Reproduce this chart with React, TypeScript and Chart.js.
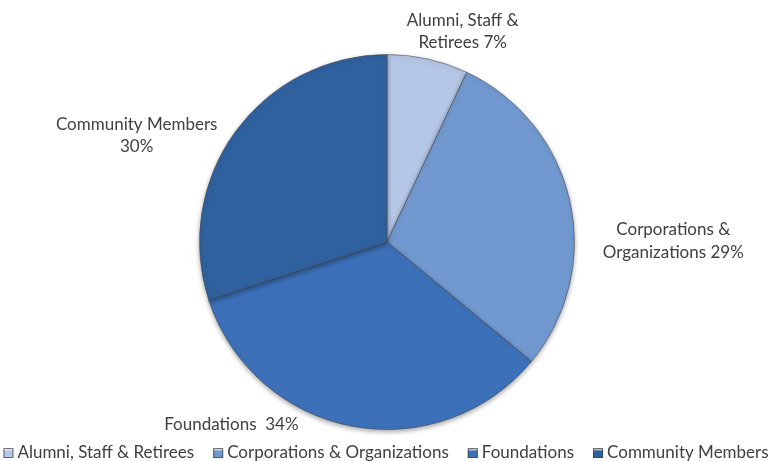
import React, { useEffect, useRef } from "react";
import { Chart, registerables } from "chart.js";

Chart.register(...registerables);

const categories = [
  "Alumni, Staff & Retirees",
  "Corporations & Organizations",
  "Foundations",
  "Community Members",
];
const values = [7, 29, 34, 30];
const labelLines = [
  ["Alumni, Staff &", "Retirees 7%"],
  ["Corporations &", "Organizations 29%"],
  ["Foundations  34%"],
  ["Community Members", "30%"],
];
const colors = ["#b5c7e6", "#7199d0", "#3c71ba", "#30619f"];
// label anchor offsets relative to pie centre, in units of radius
const labelOffsets = [
  [0.404, -1.122],
  [1.527, -0.005],
  [-0.83, 0.973],
  [-1.335, -0.569],
];

const FONT = "Lato, 'Open Sans', sans-serif";
const FONT_SIZE = 17;
const TEXT_COLOR = "#404040";

const labelPlugin = {
  id: "outerLabels",
  afterDatasetsDraw(chart: any) {
    const meta = chart.getDatasetMeta(0);
    const ctx = chart.ctx;
    ctx.save();
    ctx.font = `${FONT_SIZE}px ${FONT}`;
    ctx.fillStyle = TEXT_COLOR;
    ctx.textAlign = "center";
    ctx.textBaseline = "middle";
    const lh = 22.5;
    meta.data.forEach((arc: any, i: number) => {
      const r = arc.outerRadius;
      const cx = arc.x + labelOffsets[i][0] * r;
      const cy = arc.y + labelOffsets[i][1] * r;
      const lines = labelLines[i];
      const y0 = cy - ((lines.length - 1) * lh) / 2;
      lines.forEach((t, j) => ctx.fillText(t, cx, y0 + j * lh));
    });
    ctx.restore();
  },
};

const legendPlugin = {
  id: "customLegend",
  afterDraw(chart: any) {
    const ctx = chart.ctx;
    const labels: string[] = chart.data.labels;
    const bg: string[] = chart.data.datasets[0].backgroundColor;
    ctx.save();
    ctx.font = `${FONT_SIZE}px ${FONT}`;
    const box = 10;
    const gapBox = 4;
    const gapItem = 19;
    const widths = labels.map((l) => ctx.measureText(l).width);
    const total =
      widths.reduce((a, b) => a + b, 0) +
      labels.length * (box + gapBox) +
      (labels.length - 1) * gapItem;
    let x = (chart.width - total) / 2;
    const y = chart.height - 8;
    ctx.textBaseline = "middle";
    ctx.textAlign = "left";
    labels.forEach((l, i) => {
      const g = ctx.createLinearGradient(x, y - box / 2, x, y + box / 2);
      g.addColorStop(0, "#ffffff");
      g.addColorStop(0.35, bg[i]);
      g.addColorStop(1, bg[i]);
      ctx.fillStyle = g;
      ctx.fillRect(x, y - box / 2, box, box);
      ctx.strokeStyle = "rgba(60,60,60,0.7)";
      ctx.lineWidth = 1;
      ctx.strokeRect(x + 0.5, y - box / 2 + 0.5, box - 1, box - 1);
      x += box + gapBox;
      ctx.fillStyle = TEXT_COLOR;
      ctx.fillText(l, x, y);
      x += widths[i] + gapItem;
    });
    ctx.restore();
  },
};

const shadowPlugin = {
  id: "pieShadow",
  beforeDatasetsDraw(chart: any) {
    const ctx = chart.ctx;
    ctx.save();
    ctx.shadowColor = "rgba(0,0,0,0.35)";
    ctx.shadowBlur = 5;
    ctx.shadowOffsetY = 2;
  },
  afterDatasetsDraw(chart: any) {
    chart.ctx.restore();
  },
};

export default function App() {
  const ref = useRef<HTMLCanvasElement>(null);
  useEffect(() => {
    document.body.style.margin = "0";
    const chart = new Chart(ref.current!, {
      type: "pie",
      data: {
        labels: categories,
        datasets: [
          {
            data: values,
            backgroundColor: colors,
            borderColor: "rgba(70,70,70,0.55)",
            borderWidth: 1,
          },
        ],
      },
      options: {
        animation: false,
        responsive: false,
        maintainAspectRatio: false,
        layout: { padding: { left: 199, right: 197, top: 54, bottom: 31 } },
        plugins: {
          legend: { display: false },
          tooltip: { enabled: false },
        },
      },
      plugins: [shadowPlugin, labelPlugin, legendPlugin],
    });
    return () => chart.destroy();
  }, []);
  return (
    <div style={{ width: 772, height: 461, background: "#fff" }}>
      <canvas ref={ref} width={772} height={461} style={{ display: "block" }} />
    </div>
  );
}
